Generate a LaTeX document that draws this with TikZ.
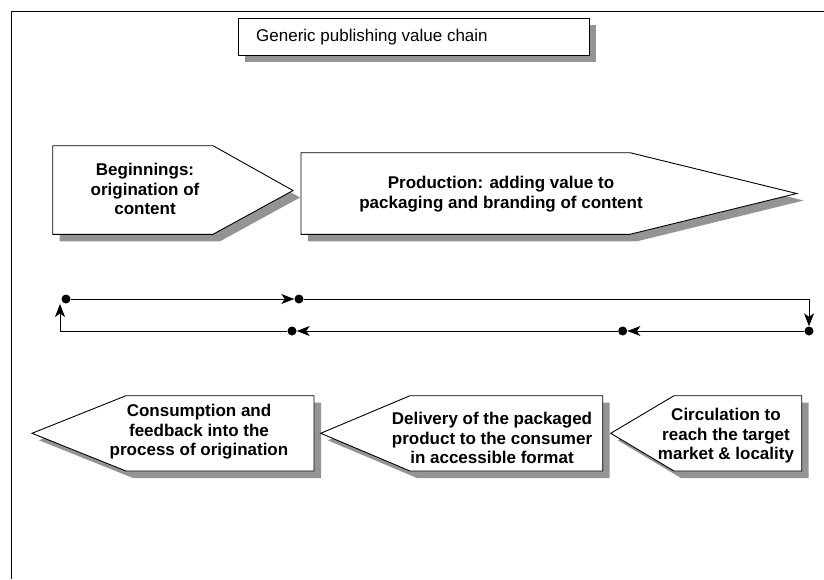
\documentclass[tikz,border=0pt]{standalone}
\usepackage{fontspec}
\setmainfont{Liberation Sans}
\usetikzlibrary{arrows.meta}
\begin{document}
\begin{tikzpicture}[x=1pt,y=-1pt,
  shade/.style={fill=black!42,draw=none},
  panel/.style={draw=black,line width=0.9pt,fill=white,line join=miter},
  lbl/.style={font=\fontsize{17}{19.5}\selectfont\bfseries,align=center,inner sep=0pt},
  dot/.style={circle,fill=black,inner sep=0pt,minimum size=9pt},
  conn/.style={line width=1pt,-{Stealth[length=13pt,width=10pt,inset=3.5pt]}}]
\useasboundingbox (0,0) rectangle (824,579);
\fill[white] (0,0) rectangle (824,579);
\draw[line width=1pt] (11,579) -- (11,11) -- (824,11);
% title
\fill[shade] (245,25) rectangle (596,62);
\draw[panel] (238,18) rectangle (589,55);
\node[anchor=west,font=\fontsize{17}{20}\selectfont,inner sep=0pt] (title) at (256,37) {Generic publishing value chain};
% top arrows
\fill[shade,shift={(7,7)}] (52.7,145.7) -- (213,145.7) -- (293,190.5) -- (213,234.3) -- (52.7,234.3) -- cycle;
\draw[panel] (52.7,145.7) -- (213,145.7) -- (293,190.5) -- (213,234.3) -- (52.7,234.3) -- cycle;
\fill[shade,shift={(7,7)}] (301,152.7) -- (630,152.7) -- (796.7,193.5) -- (630,234.3) -- (301,234.3) -- cycle;
\draw[panel] (301,152.7) -- (630,152.7) -- (796.7,193.5) -- (630,234.3) -- (301,234.3) -- cycle;
% bottom arrows
\fill[shade,shift={(7,7)}] (32,433.3) -- (126,395.7) -- (314,395.7) -- (314,471) -- (126,471) -- cycle;
\draw[panel] (32,433.3) -- (126,395.7) -- (314,395.7) -- (314,471) -- (126,471) -- cycle;
\fill[shade,shift={(7,7)}] (320.7,433.3) -- (410,395.7) -- (602.7,395.7) -- (602.7,471) -- (410,471) -- cycle;
\draw[panel] (320.7,433.3) -- (410,395.7) -- (602.7,395.7) -- (602.7,471) -- (410,471) -- cycle;
\fill[shade,shift={(7,7)}] (610.7,433.3) -- (674,395.7) -- (801.7,395.7) -- (801.7,471) -- (674,471) -- cycle;
\draw[panel] (610.7,433.3) -- (674,395.7) -- (801.7,395.7) -- (801.7,471) -- (674,471) -- cycle;
% labels
\node[lbl] (t1) at (145,189) {Beginnings:\\origination of\\content};
\node[lbl] (t2) at (501,194) {Production: adding value to\\packaging and branding of content};
\node[lbl] (t3) at (199,432) {Consumption and\\feedback into the\\process of origination};
\node[lbl] (t4) at (492,438) {Delivery of the packaged\\product to the consumer\\in accessible format};
\node[lbl] (t5) at (726,436) {Circulation to\\reach the target\\market \& locality};
% loop connectors
\node[dot] (A) at (66,299) {};
\node[dot] (B) at (299,299) {};
\node[dot] (C) at (809,331) {};
\node[dot] (D) at (622.7,331) {};
\node[dot] (E) at (292,331) {};
\coordinate (TR) at (809,299);
\coordinate (BL) at (60,331);
\coordinate (UL) at (60,304);
\draw[conn] (A) -- (B);
\draw[conn] (B) -- (TR) -- (C);
\draw[conn] (C) -- (D);
\draw[conn] (D) -- (E);
\draw[conn] (E) -- (BL) -- (UL);
\end{tikzpicture}
\end{document}
